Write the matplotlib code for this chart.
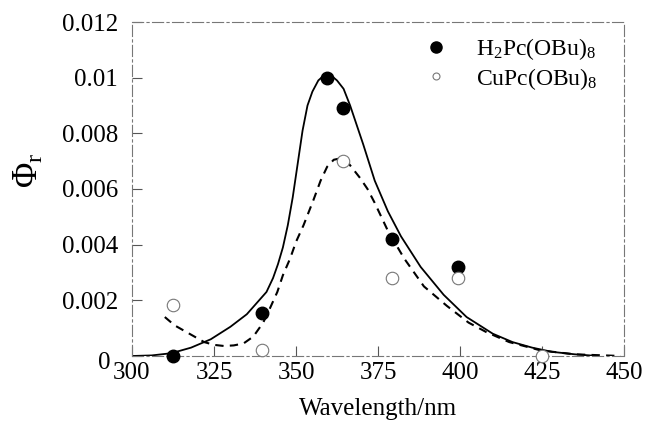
import matplotlib
matplotlib.use("Agg")
import matplotlib.pyplot as plt
import matplotlib.transforms as mtransforms
from matplotlib.lines import Line2D

plt.rcParams['font.family'] = ['Liberation Serif', 'DejaVu Serif']
plt.rcParams['mathtext.fontset'] = 'custom'
plt.rcParams['mathtext.rm'] = 'Liberation Serif'
plt.rcParams['mathtext.it'] = 'Liberation Serif:italic'

# measured points
h2_x = [312.5, 339.5, 359.5, 364.4, 379.4, 399.5]
h2_y = [0.0000, 0.00155, 0.0100, 0.0089, 0.0042, 0.0032]
cu_x = [312.5, 339.5, 364.4, 379.4, 399.5, 424.9]
cu_y = [0.00185, 0.0002, 0.0070, 0.0028, 0.0028, 0.0000]

# fitted curves
fit_h2_x = [300, 306, 312, 318, 324, 330, 335, 338, 341, 343, 344.5, 346, 347.5,
            349, 350.5, 352, 353.5, 355, 356.8, 358.5, 360.5, 362.5, 364.5, 366.5,
            368.5, 370.5, 374, 378, 382, 388, 395, 402, 410, 416, 422, 428, 435, 442]
fit_h2_y = [0.0000, 0.00002, 0.0001, 0.0003, 0.0006, 0.00105, 0.0015, 0.0019, 0.0023,
            0.0028, 0.0033, 0.0039, 0.0047, 0.0057, 0.0069, 0.0081, 0.0090, 0.0095,
            0.0099, 0.01008, 0.0101, 0.0099, 0.0096, 0.0090, 0.0083, 0.0076, 0.0063,
            0.0052, 0.0043, 0.0032, 0.0022, 0.0014, 0.0008, 0.0005, 0.0003, 0.00015,
            0.00006, 0.0000]
fit_cu_x = [310, 313, 316, 319, 322, 325, 328, 331, 334, 337, 340, 342, 344.3, 346,
            348.2, 350, 352.3, 355.3, 357.5, 359.5, 361.5, 363.5, 365.5, 367.5, 369.5,
            371.8, 374, 378, 383, 389, 396, 402.6, 408, 415, 424.6, 435, 449]
fit_cu_y = [0.0014, 0.0011, 0.0009, 0.0007, 0.0005, 0.0004, 0.00036, 0.00038, 0.00045,
            0.0007, 0.0012, 0.0017, 0.0023, 0.0029, 0.0035, 0.0041, 0.0047, 0.0056,
            0.0063, 0.0068, 0.00705, 0.0071, 0.0070, 0.0067, 0.0064, 0.0060, 0.0055,
            0.0045, 0.0035, 0.0025, 0.0018, 0.0012, 0.00086, 0.0005, 0.0002, 0.00006,
            0.0]

x_ticks = [300, 325, 350, 375, 400, 425, 450]
y_ticks = [0, 0.002, 0.004, 0.006, 0.008, 0.01, 0.012]
y_tick_labels = ['0', '0.002', '0.004', '0.006', '0.008', '0.01', '0.012']

fig = plt.figure(figsize=(6.48, 4.24), dpi=100)
ax = fig.add_axes([0.2037, 0.1604, 0.7593, 0.7877])

ax.plot(fit_h2_x, fit_h2_y, color='black', lw=1.3, zorder=2)
ax.plot(fit_cu_x, fit_cu_y, color='black', lw=1.5, dashes=(4, 3), zorder=2)
ax.plot(h2_x, h2_y, 'o', color='black', ms=9, zorder=3, clip_on=False)
ax.plot(cu_x, cu_y, 'o', mfc='white', mec='#777777', mew=0.8, ms=9, zorder=3,
        clip_on=False)

ax.set_xlim(300, 450)
ax.set_ylim(0, 0.012)
ax.set_xticks(x_ticks)
ax.set_xticklabels([str(t) for t in x_ticks])
ax.set_yticks(y_ticks)
ax.set_yticklabels(y_tick_labels)
ax.tick_params(axis='both', direction='in', length=7, width=0.8, color='#555555',
               labelsize=18)
ax.tick_params(axis='y', pad=10)
ax.tick_params(axis='x', pad=4)

# the "0" label sits a little left and low in the reference
zero_lbl = ax.get_yticklabels()[0]
zero_lbl.set_transform(zero_lbl.get_transform() +
                       mtransforms.ScaledTranslation(-8 / 100, -5 / 100,
                                                     fig.dpi_scale_trans))

for s in ax.spines.values():
    s.set_color('#777777')
    s.set_linewidth(0.8)
    s.set_linestyle((0, (10, 3, 2, 3)))

ax.set_xlabel('Wavelength/nm', fontsize=18)
ax.xaxis.set_label_coords(0.5, -0.125)
ax.set_ylabel(r'$\Phi_{\mathrm{r}}$', fontsize=25)
ax.yaxis.set_label_coords(-0.175, 0.555)

handles = [
    Line2D([], [], marker='o', ls='none', color='black', ms=8),
    Line2D([], [], marker='o', ls='none', mfc='white', mec='#777777', mew=0.8, ms=5),
]
ax.legend(handles, [r'H$_2$Pc(OBu)$_8$', r'CuPc(OBu)$_8$'], loc='upper right',
          bbox_to_anchor=(0.975, 1.0), frameon=False, fontsize=17,
          handletextpad=0.7, labelspacing=0.15, borderaxespad=0.2)

fig.savefig('out.png', dpi=100)
